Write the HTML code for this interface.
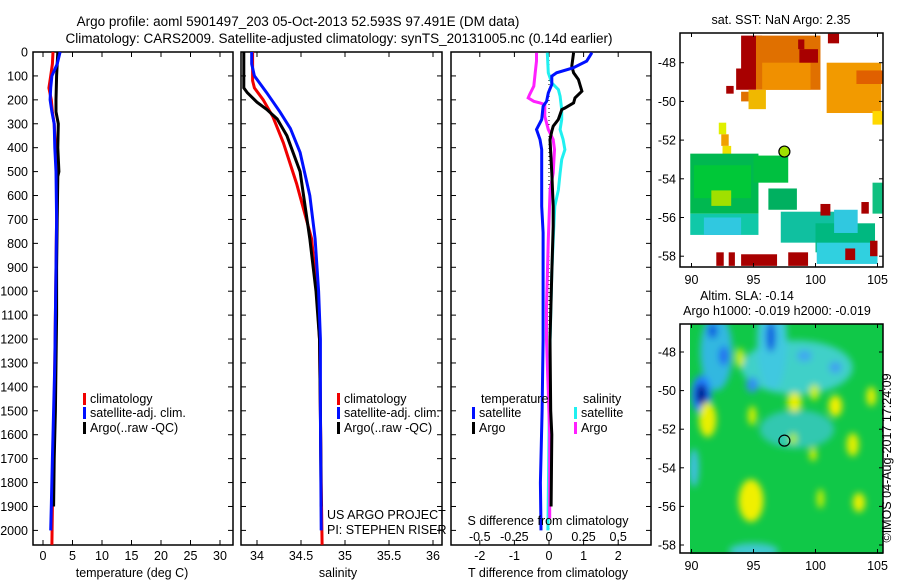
<!DOCTYPE html>
<html><head><meta charset="utf-8"><style>
body{margin:0;background:#fff;}
svg{display:block;font-family:"Liberation Sans",sans-serif;}
text{fill:#000;}
</style></head><body>
<svg id="fig" width="900" height="580" viewBox="0 0 900 580" xmlns="http://www.w3.org/2000/svg">
<defs>
<filter id="blur" x="-50%" y="-50%" width="200%" height="200%"><feGaussianBlur stdDeviation="3.5"/></filter>
<clipPath id="clipSla"><rect x="690" y="324" width="193" height="230"/></clipPath>
<clipPath id="clipSst"><rect x="680" y="33" width="203" height="234"/></clipPath>
</defs>
<text x="298" y="26" font-size="13.5" text-anchor="middle">Argo profile: aoml 5901497_203 05-Oct-2013 52.593S 97.491E (DM data)</text>
<text x="339" y="43" font-size="13.5" text-anchor="middle">Climatology: CARS2009. Satellite-adjusted climatology: synTS_20131005.nc (0.14d earlier)</text>
<g id="g"></g>
</svg>
<script>
// ---------- data ----------
const depthTicks=[0,100,200,300,400,500,600,700,800,900,1000,1100,1200,1300,1400,1500,1600,1700,1800,1900,2000];
const tempTicks=[0,5,10,15,20,25,30];
const salTicks=[34,34.5,35,35.5,36];
const salTickLabels=["34","34.5","35","35.5","36"];
const tdiffTicks=[-2,-1,0,1,2];
const sdiffTicks=[-0.5,-0.25,0,0.25,0.5];
const sdiffLabels=["-0.5","-0.25","0","0.25","0.5"];
// temperature profiles [depth, value]
const tempClimDepth=[0,50,100,150,200,250,300,400,500,700,900,1100,1300,1500,1700,1900,2060];
const tempClimVal=[1.7,1.6,1.3,1.0,1.4,1.6,1.9,2.1,2.3,2.3,2.2,2.1,2.0,1.9,1.7,1.6,1.5];
const tempSatDepth=[0,50,100,150,200,250,300,400,500,700,900,1100,1300,1500,1700,1900,2000];
const tempSatVal=[2.9,2.4,1.5,1.3,1.2,1.5,1.9,2.0,2.2,2.3,2.2,2.1,2.0,1.8,1.6,1.4,1.3];
const tempArgoDepth=[0,100,200,250,300,400,500,520,700,900,1100,1300,1500,1700,1900];
const tempArgoVal=[2.5,2.3,2.2,2.2,2.6,2.5,2.7,2.5,2.4,2.3,2.3,2.2,2.1,1.9,1.8];
// salinity profiles
const salClimDepth=[0,120,150,200,270,380,550,780,1000,1200,1500,1800,2060];
const salClimVal=[33.95,33.95,33.97,34.07,34.18,34.30,34.45,34.62,34.68,34.71,34.72,34.73,34.74];
const salSatDepth=[0,50,100,170,250,320,420,600,780,1000,1200,1500,2000];
const salSatVal=[33.94,33.94,33.97,34.11,34.26,34.38,34.49,34.60,34.66,34.70,34.72,34.72,34.73];
const salArgoDepth=[0,150,170,210,240,280,350,500,780,1000,1200,1500,1900];
const salArgoVal=[33.85,33.85,33.89,34.00,34.11,34.23,34.34,34.49,34.60,34.67,34.71,34.72,34.73];
// differences
const dTsatDepth=[3,38,66,87,101,136,171,206,227,282,324,366,408,645,755,923,1203,1500,1800,2000];
const dTsatVal=[1.24,1.09,0.70,0.22,0.08,0.08,-0.02,-0.07,-0.17,-0.21,-0.36,-0.26,-0.21,-0.21,-0.17,-0.17,-0.17,-0.2,-0.25,-0.23];
const dTargoDepth=[3,59,87,115,164,192,213,234,241,282,310,331,366,506,645,729,923,1203,1500,1600,1900];
const dTargoVal=[0.71,0.66,0.71,0.85,0.95,0.75,0.71,0.46,0.37,0.27,0.12,0.08,0.03,0.08,0.12,0.12,0.08,0.03,0.05,0.08,0.06];
const dSargoDepth=[3,38,87,143,178,192,206,213,220,269,324,366,408,506,576,785,1064,1203,1600,1950];
const dSargoVal=[-0.09,-0.09,-0.10,-0.11,-0.14,-0.15,-0.11,-0.065,-0.03,-0.03,-0.005,0.03,0.04,0.03,0.008,-0.005,-0.018,-0.018,0.005,0.005];
const dSsatDepth=[3,87,129,157,185,241,282,324,366,408,450,506,576,645,785,923,1203,1600,2000];
const dSsatVal=[-0.012,-0.005,0.02,0.068,0.08,0.092,0.092,0.08,0.102,0.115,0.092,0.08,0.068,0.042,0.03,0.02,0.008,0.0,-0.008];
// SST map patches [lon0,lat0,lon1,lat1,color]
const sstPatches=[
[94.0,-46.6,95.7,-49.3,"#a80000"],[93.6,-48.3,95.2,-49.4,"#a80000"],[92.8,-49.2,93.4,-49.6,"#a80000"],
[95.2,-46.6,100.4,-49.4,"#e07000"],[95.7,-48.0,99.6,-49.4,"#f09000"],[98.6,-46.8,99.1,-47.3,"#a80000"],
[98.7,-47.3,100.2,-48.0,"#a80000"],[101.0,-46.5,101.9,-47.0,"#a80000"],[100.9,-48.0,105.3,-50.6,"#f29a00"],
[103.3,-48.4,105.4,-49.1,"#e06000"],[104.6,-50.5,105.4,-51.2,"#ffd800"],[94.0,-49.5,94.6,-50.0,"#e07000"],
[94.6,-49.4,96.0,-50.4,"#f0b800"],[92.2,-51.1,92.8,-51.7,"#e0f000"],[92.4,-51.7,93.0,-52.3,"#f0a000"],
[92.5,-52.3,93.2,-52.9,"#f0e000"],[89.9,-52.7,95.4,-55.8,"#00b850"],[90.2,-53.3,94.8,-55.0,"#00c838"],
[89.9,-55.8,95.4,-56.9,"#10c8a8"],[91.0,-56.0,94.0,-56.9,"#30c8e0"],[95.0,-52.8,97.8,-54.2,"#00c040"],
[96.2,-54.5,98.5,-55.6,"#00b060"],[97.2,-55.7,103.0,-57.3,"#10c0a0"],[100.0,-56.3,104.8,-57.8,"#00b880"],
[101.5,-55.6,103.4,-56.8,"#30c8e0"],[100.1,-57.3,105.0,-58.4,"#30d0e0"],[100.4,-55.3,101.2,-55.9,"#a80000"],
[103.7,-55.2,104.3,-55.8,"#a80000"],[102.4,-57.6,103.2,-58.2,"#a80000"],[104.4,-57.2,105.0,-58.0,"#a80000"],
[104.6,-54.2,105.4,-55.8,"#10c080"],[92.0,-57.8,92.6,-58.5,"#a80000"],[93.0,-57.8,93.5,-58.5,"#a80000"],
[94.0,-57.9,96.9,-58.5,"#a80000"],[97.8,-57.8,99.4,-58.5,"#a80000"],[91.6,-54.6,93.2,-55.4,"#a0e000"]
];
// SLA map blobs [lon,lat,rxDeg,ryDeg,color]
const slaBlobs=[
[98.5,-48.8,4.5,1.4,"#40d0c8"],[96.5,-47.5,1.2,2.5,"#40c8e0"],[92.0,-48.0,1.3,2.0,"#30b8e0"],
[90.8,-50.2,0.8,1.0,"#2080ff"],[90.8,-50.2,0.45,0.55,"#001890"],[91.7,-46.9,0.4,0.4,"#1060e0"],
[92.6,-48.2,0.4,0.5,"#2070f0"],[96.4,-47.2,0.4,0.8,"#1060e0"],[94.9,-49.7,0.5,0.4,"#3090f0"],
[99.1,-48.2,0.6,0.3,"#40a8f0"],[101.6,-48.8,0.5,0.3,"#40a0f0"],[98.5,-52.0,3.0,1.0,"#30c8b0"],
[90.2,-54.0,0.4,1.0,"#40c0e0"],[95.0,-58.3,2.0,0.4,"#40c8d0"],
[91.3,-51.5,0.7,0.9,"#e8f000"],[93.9,-48.3,0.35,0.5,"#d0f000"],[94.9,-51.3,0.35,0.5,"#d0f000"],
[98.3,-50.6,0.6,0.5,"#e8f000"],[99.9,-50.1,0.4,0.4,"#c8f000"],[101.6,-50.8,0.55,0.55,"#f0f000"],
[104.5,-50.3,0.4,0.5,"#e0f000"],[103.0,-52.8,0.5,0.6,"#e0f000"],[99.8,-53.3,0.3,0.35,"#d8f000"],
[94.8,-55.7,1.0,1.1,"#f0f000"],[103.5,-55.8,0.5,0.5,"#e8f000"],[100.4,-55.6,0.3,0.5,"#c8f000"],
[98.2,-52.5,0.3,0.3,"#b0f000"]
];
const argoLon=97.491, argoLat=-52.593;
const mapLonTicks=[90,95,100,105];
const mapLatTicks=[-48,-50,-52,-54,-56,-58];

// ---------- helpers ----------
const NS="http://www.w3.org/2000/svg";
const G=document.getElementById('g');
function mk(tag,attrs,parent){const e=document.createElementNS(NS,tag);for(const k in attrs)e.setAttribute(k,attrs[k]);(parent||G).appendChild(e);return e;}
function txt(s,x,y,size,anchor,parent){const t=mk('text',{x:x,y:y,'font-size':size,'text-anchor':anchor||'start'},parent);t.textContent=s;return t;}
const TOP=52, BOT=545;
const yD=d=>TOP+d*0.2392;
const P1={x0:33,x1:233}, P2={x0:241,x1:442}, P3={x0:451,x1:651};
const xT=v=>43+v*5.9;
const xS=v=>257+(v-34)*88;
const xTd=v=>549+v*34.6;
const xSd=v=>549+v*4*34.6;

function frame(P,name){
  const r=mk('rect',{x:P.x0,y:TOP,width:P.x1-P.x0,height:BOT-TOP,fill:'none',stroke:'#000','stroke-width':1.5});
  
  
  depthTicks.forEach(d=>{
    mk('line',{x1:P.x0,x2:P.x0+5,y1:yD(d),y2:yD(d),stroke:'#000'});
    mk('line',{x1:P.x1,x2:P.x1-5,y1:yD(d),y2:yD(d),stroke:'#000'});
  });
}
function xticks(vals,fx,labels,ly,name){
  vals.forEach((v,i)=>{
    const x=fx(v);
    mk('line',{x1:x,x2:x,y1:TOP,y2:TOP+5,stroke:'#000'});
    mk('line',{x1:x,x2:x,y1:BOT,y2:BOT-5,stroke:'#000'});
    if(labels){const t=txt(labels[i],x,ly,12.5,'middle');
      
      }
  });
}
function line(dep,val,fx,color,name,w){
  const pts=dep.map((d,i)=>fx(val[i]).toFixed(1)+','+yD(d).toFixed(1)).join(' ');
  const p=mk('polyline',{points:pts,fill:'none',stroke:color,'stroke-width':w||3,'stroke-linejoin':'miter'});
  
  
}
function legendItem(color,label,x,y,name){
  const r=mk('rect',{x:x,y:y-10,width:3,height:12,fill:color});
  
  
  const t=txt(label,x+7,y,12.5);
  
  
}

// depth labels
depthTicks.forEach(d=>{const t=txt(String(d),28,yD(d)+4.5,12.5,'end');
  
  });

// panel 1
frame(P1,'temperature-panel');
xticks(tempTicks,xT,tempTicks.map(String),560,'temperature');
line(tempClimDepth,tempClimVal,xT,'#f00000','temp-climatology-line');
line(tempArgoDepth,tempArgoVal,xT,'#000','temp-argo-line');
line(tempSatDepth,tempSatVal,xT,'#0010ff','temp-satellite-line');
let t=txt('temperature (deg C)',132,577,12.5,'middle');


legendItem('#f00000','climatology',83,403,'legend-temp-climatology');
legendItem('#0010ff','satellite-adj. clim.',83,417,'legend-temp-satellite');
legendItem('#000','Argo(..raw -QC)',83,432,'legend-temp-argo');

// panel 2
frame(P2,'salinity-panel');
xticks(salTicks,xS,salTickLabels,560,'salinity');
line(salClimDepth,salClimVal,xS,'#f00000','sal-climatology-line');
line(salArgoDepth,salArgoVal,xS,'#000','sal-argo-line');
line(salSatDepth,salSatVal,xS,'#0010ff','sal-satellite-line');
t=txt('salinity',338,577,12.5,'middle');


legendItem('#f00000','climatology',337,403,'legend-sal-climatology');
legendItem('#0010ff','satellite-adj. clim.',337,417,'legend-sal-satellite');
legendItem('#000','Argo(..raw -QC)',337,432,'legend-sal-argo');
t=txt('US ARGO PROJECT',327,519,12.5);


t=txt('PI: STEPHEN RISER',327,534,12.5);



// panel 3
frame(P3,'difference-panel');
xticks(tdiffTicks,xTd,tdiffTicks.map(String),560,'tdiff');
mk('line',{x1:xTd(0),x2:xTd(0),y1:yD(0),y2:yD(2000),stroke:'#000','stroke-width':1,'stroke-dasharray':'1,3'});
line(dSsatDepth,dSsatVal,xSd,'#20f0f0','sdiff-satellite-line');
line(dSargoDepth,dSargoVal,xSd,'#ff20ff','sdiff-argo-line');
line(dTargoDepth,dTargoVal,xTd,'#000','tdiff-argo-line');
line(dTsatDepth,dTsatVal,xTd,'#0010ff','tdiff-satellite-line');
sdiffTicks.forEach((v,i)=>{const tt=txt(sdiffLabels[i],xSd(v),541,12.5,'middle');
  
  });
t=txt('S difference from climatology',548,525,12.5,'middle');


t=txt('T difference from climatology',548,577,12.5,'middle');


t=txt('temperature',481,403,12.5);


t=txt('salinity',583,403,12.5);


legendItem('#0010ff','satellite',472,417,'legend-tdiff-satellite');
legendItem('#000','Argo',472,432,'legend-tdiff-argo');
legendItem('#20f0f0','satellite',574,417,'legend-sdiff-satellite');
legendItem('#ff20ff','Argo',574,432,'legend-sdiff-argo');

// maps
function mapAxes(M,name){
  const r=mk('rect',{x:M.x0,y:M.y0,width:M.x1-M.x0,height:M.y1-M.y0,fill:'none',stroke:'#000','stroke-width':1.5});
  
  
  mapLonTicks.forEach(l=>{const x=M.lx(l);
    mk('line',{x1:x,x2:x,y1:M.y0,y2:M.y0+4,stroke:'#000'});
    mk('line',{x1:x,x2:x,y1:M.y1,y2:M.y1-4,stroke:'#000'});
    const tt=txt(String(l),x,M.y1+17,12.5,'middle');
    
    });
  mapLatTicks.forEach(l=>{const y=M.ly(l);
    mk('line',{x1:M.x0,x2:M.x0+4,y1:y,y2:y,stroke:'#000'});
    mk('line',{x1:M.x1,x2:M.x1-4,y1:y,y2:y,stroke:'#000'});
    const tt=txt(String(l),M.x0-4,y+4.5,12.5,'end');
    
    });
}
const M1={x0:680,x1:883,y0:33,y1:267,lx:l=>691.5+(l-90)*12.4,ly:l=>62.7+(-48-l)*19.35};
const M2={x0:680,x1:883,y0:324,y1:553,lx:l=>691.5+(l-90)*12.4,ly:l=>352+(-48-l)*19.3};
// SST
const gs=mk('g',{'clip-path':'url(#clipSst)'});


sstPatches.forEach(p=>{
  const x=M1.lx(p[0]),x2=M1.lx(p[2]),y=M1.ly(p[1]),y2=M1.ly(p[3]);
  const r=mk('rect',{x:x,y:y,width:x2-x,height:y2-y,fill:p[4]},gs);
  
  
});
mapAxes(M1,'sst');
let c=mk('circle',{cx:M1.lx(argoLon),cy:M1.ly(argoLat),r:5.5,fill:'#a0e000',stroke:'#000','stroke-width':1.2});


t=txt('sat. SST: NaN Argo: 2.35',781,24,12.5,'middle');


// SLA
const gl=mk('g',{'clip-path':'url(#clipSla)'});


mk('rect',{x:690,y:324,width:193,height:230,fill:'#10c848'},gl);
const gb=mk('g',{filter:'url(#blur)'},gl);
slaBlobs.forEach(b=>{
  const e=mk('ellipse',{cx:M2.lx(b[0]),cy:M2.ly(b[1]),rx:b[2]*12.4,ry:b[3]*19.3,fill:b[4]},gb);
  
  
});
mapAxes(M2,'sla');
c=mk('circle',{cx:M2.lx(argoLon),cy:M2.ly(argoLat),r:5.5,fill:'none',stroke:'#000','stroke-width':1.2});


t=txt('Altim. SLA: -0.14',747,300,12.5,'middle');


t=txt('Argo h1000: -0.019 h2000: -0.019',777,315,12.5,'middle');


t=txt('©IMOS 04-Aug-2017 17:24:09',0,0,12.5,'middle');
t.setAttribute('transform','translate(891,458) rotate(-90)');


</script>
</body></html>
